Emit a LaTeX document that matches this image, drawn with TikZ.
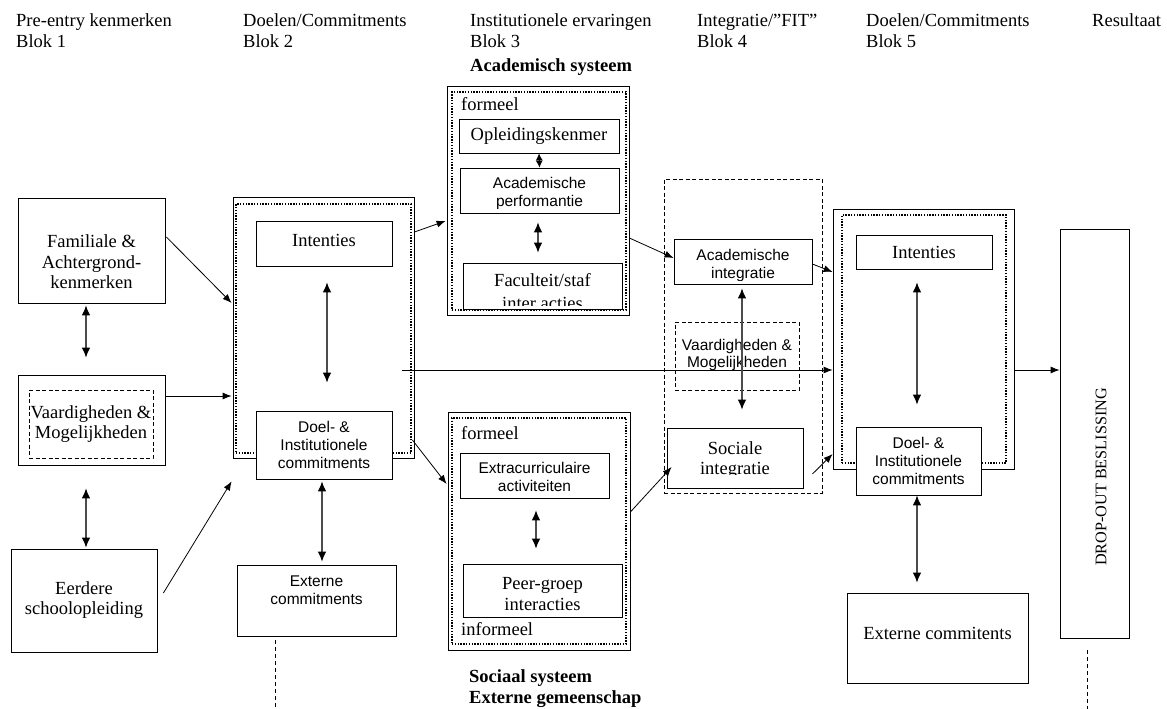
\documentclass[tikz,border=0pt]{standalone}
\usepackage{fontspec}
\setmainfont{Liberation Serif}
\setsansfont{Liberation Sans}
\usetikzlibrary{arrows.meta,calc,fit}

\begin{document}
\begin{tikzpicture}[x=1pt,y=-1pt,
  box/.style={draw,line width=0.8pt,fill=white,inner sep=0pt},
  dotbox/.style={draw,line width=1.4pt,dash pattern=on 1.4pt off 1.4pt,inner sep=0pt},
  dashbox/.style={draw,line width=0.7pt,dash pattern=on 4pt off 2.5pt,inner sep=0pt},
  rm/.style={font=\fontsize{18.5}{20.5}\selectfont,align=center,inner sep=0pt},
  sf/.style={font=\sffamily\fontsize{15.5}{18}\selectfont,align=center,inner sep=0pt},
  hdr/.style={font=\fontsize{18.5}{21}\selectfont,anchor=base west,inner sep=0pt},
  hdrb/.style={hdr,font=\fontsize{18.5}{21}\selectfont\bfseries},
  lbl/.style={font=\fontsize{18.5}{20.5}\selectfont,anchor=west,inner sep=0pt},
  tip/.style={-{Latex[length=9pt,width=7pt]},line width=0.8pt},
  both/.style={{Latex[length=10pt,width=8.5pt,color=black]}-{Latex[length=10pt,width=8.5pt,color=black]},line width=1.1pt,draw=black!70},
  vline/.style={line width=0.8pt,dash pattern=on 4pt off 3pt},
]
\useasboundingbox (0,0) rectangle (1167,709);

% column headers
\node[hdr] (h1a) at (16,27) {Pre-entry kenmerken};
\node[hdr] (h1b) at (16,48) {Blok 1};
\node[hdr] (h2a) at (243,27) {Doelen/Commitments};
\node[hdr] (h2b) at (243,48) {Blok 2};
\node[hdr] (h3a) at (470,27) {Institutionele ervaringen};
\node[hdr] (h3b) at (470,48) {Blok 3};
\node[hdrb] (h3c) at (470,72) {Academisch systeem};
\node[hdr] (h4a) at (697,27) {Integratie/”FIT”};
\node[hdr] (h4b) at (697,48) {Blok 4};
\node[hdr] (h5a) at (866,27) {Doelen/Commitments};
\node[hdr] (h5b) at (866,48) {Blok 5};
\node[hdr] (h6) at (1092,27) {Resultaat};
\node[hdrb] (f1) at (469,682) {Sociaal systeem};
\node[hdrb] (f2) at (469,703) {Externe gemeenschap};

% Blok 1
\node[box,fit={(18,198) (165,303)}] (fam) {};
\node[rm] (famT) at (91.5,262) {Familiale \&\\Achtergrond-\\kenmerken};
\node[box,fit={(18,375) (165,465)}] (vA) {};
\node[dashbox,fit={(29,390) (153,458)}] (vAin) {};
\node[rm] (vAT) at (91,424) {Vaardigheden \&\\Mogelijkheden};
\node[box,fit={(11,549) (157,652)}] (eerd) {};
\node[rm] (eerdT) at (84,600) {Eerdere\\schoolopleiding};

% Blok 2
\node[box,fit={(233,197) (414,458)}] (b2) {};
\node[dotbox,fit={(236,204) (411,453)}] (b2in) {};
\node[box,fit={(256,221) (392,266)}] (int2) {};
\node[rm] (int2T) at (324,240) {Intenties};
\node[box,fit={(256,411) (392,479)}] (doel2) {};
\node[sf] (doel2T) at (324,445) {Doel- \&\\Institutionele\\commitments};
\node[box,fit={(237,565) (396,636)}] (ext2) {};
\node[sf] (ext2T) at (316.5,590) {Externe\\commitments};

% Blok 3, academisch systeem
\node[box,fit={(447,86) (629,315)}] (ac) {};
\node[dotbox,fit={(452,92) (626,310)}] (acin) {};
\node[lbl] (acF) at (461,104) {formeel};
\node[box,fit={(459,119) (619,153)}] (opl) {};
\node[rm] (oplT) at (539,136) {Opleidingskenmer};
\node[box,fit={(460,168) (619,213)}] (acperf) {};
\begin{scope}
  \clip ($(acperf.south west)+(0,-5)$) rectangle (acperf.north east);
  \node[sf] (acperfT) at (539.5,193) {Academische\\performantie};
\end{scope}
\node[box,fit={(463,263) (622,309)}] (fac) {};
\begin{scope}
  \clip ($(fac.south west)+(0,-4)$) rectangle (fac.north east);
  \node[rm,font=\fontsize{18.5}{23}\selectfont] (facT) at (542.5,292) {Faculteit/staf\\inter acties};
\end{scope}

% Blok 3, sociaal systeem
\node[box,fit={(448,412) (630,650)}] (soc) {};
\node[dotbox,fit={(452,418) (626,644)}] (socin) {};
\node[lbl] (socF) at (461,433) {formeel};
\node[lbl] (socI) at (461,629) {informeel};
\node[box,fit={(460,453) (609,498)}] (extra) {};
\node[sf] (extraT) at (534.5,477) {Extracurriculaire\\activiteiten};
\node[box,fit={(463,564) (622,617)}] (peer) {};
\node[rm] (peerT) at (542.5,594) {Peer-groep\\interacties};

% Blok 4
\node[dashbox,fit={(664,179) (822,493)}] (b4) {};
\node[box,fit={(674,239) (812,284)}] (acint) {};
\begin{scope}
  \clip ($(acint.south west)+(0,-4)$) rectangle (acint.north east);
  \node[sf] (acintT) at (743,265) {Academische\\integratie};
\end{scope}
\node[dashbox,fit={(675,322) (799,390)}] (vB) {};
\node[sf,font=\sffamily\fontsize{15.5}{17}\selectfont] (vBT) at (737,355) {Vaardigheden \&\\Mogelijkheden};
\node[box,fit={(667,428) (803,488)}] (socint) {};
\begin{scope}
  \clip ($(socint.south west)+(0,-14)$) rectangle (socint.north east);
  \node[rm] (socintT) at (735,460) {Sociale\\integratie};
\end{scope}

% Blok 5
\node[box,fit={(833,209) (1014,469)}] (b5) {};
\node[dotbox,fit={(842,215) (1006,463)}] (b5in) {};
\node[box,fit={(856,235) (992,269)}] (int5) {};
\node[rm] (int5T) at (924,252) {Intenties};
\node[box,fit={(856,427) (981,495)}] (doel5) {};
\node[sf] (doel5T) at (918.5,461) {Doel- \&\\Institutionele\\commitments};
\node[box,fit={(847,593) (1028,683)}] (ext5) {};
\node[rm] (ext5T) at (937.5,633) {Externe commitents};

% Resultaat
\node[box,fit={(1060,229) (1129,638)}] (drop) {};
\node[rm,font=\fontsize{16.2}{18}\selectfont,rotate=90] (dropT) at (1101,477) {DROP-OUT BESLISSING};

% free ends of the dashed lines
\coordinate (ext2end) at (275,709);
\coordinate (dropend) at (1087,709);

% connectors
\draw[tip] ($(fam.east)+(1,-13.5)$) -- ($(b2.west)+(-1,-24.5)$);
\draw[tip] ($(vA.east)+(1,-24)$) -- ($(b2.west)+(-1,68.5)$);
\draw[tip] ($(eerd.east)+(6,-7.5)$) -- ($(b2.south west)+(-1,23)$);
\draw[both] ($(fam.south)+(-5.5,2)$) -- ($(vA.north)+(-5.5,-17)$);
\draw[both] ($(vA.south)+(-5.5,23)$) -- ($(eerd.north)+(2,-1)$);

\draw[both] ($(int2.south)+(3,16)$) -- ($(doel2.north)+(3,-28)$);
\draw[both] ($(doel2.south)+(-2,2)$) -- ($(ext2.north)+(5.5,-3)$);
\draw[tip] ($(b2.east)+(0,-95.5)$) -- ($(ac.west)+(-1,20.5)$);
\draw[tip] ($(b2.east)+(-2,112.5)$) -- ($(soc.west)+(-1,-47)$);
\draw[tip] ($(b2.east)+(-12,42.5)$) -- ($(b5.west)+(0,31)$);

\draw[{Latex[length=7pt,width=7pt]}-{Latex[length=7pt,width=7pt]},line width=1pt] (opl.south) -- (acperf.north);
\draw[both] ($(acperf.south)+(-1.5,9)$) -- ($(fac.north)+(-4.5,-10)$);
\draw[both] ($(extra.south)+(1.5,12)$) -- ($(peer.north)+(-6.5,-15)$);

\draw[tip] ($(ac.east)+(0,37.5)$) -- ($(acint.west)+(0,-3.5)$);
\draw[tip] ($(soc.east)+(0,-19)$) -- ($(socint.west)+(5,9)$);
\draw[both] ($(acint.south)+(-1,4)$) -- ($(socint.north)+(7,-18)$);
\draw[tip] ($(acint.east)+(0,2.5)$) -- ($(b5.west)+(0,-67)$);
\draw[tip] ($(socint.east)+(9,16)$) -- ($(b5.west)+(0,115)$);

\draw[both] ($(int5.south)+(-7,13)$) -- ($(doel5.north)+(-1.5,-22)$);
\draw[both] ($(doel5.south)+(-1.5,0)$) -- ($(ext5.north)+(-20.5,-10)$);
\draw[tip] ($(b5.east)+(0,31)$) -- ($(drop.west)+(0,-63.5)$);

\draw[vline] ($(ext2.south)+(-41.5,4)$) -- (ext2end);
\draw[vline] ($(drop.south)+(-7.5,12)$) -- (dropend);
\end{tikzpicture}
\end{document}
